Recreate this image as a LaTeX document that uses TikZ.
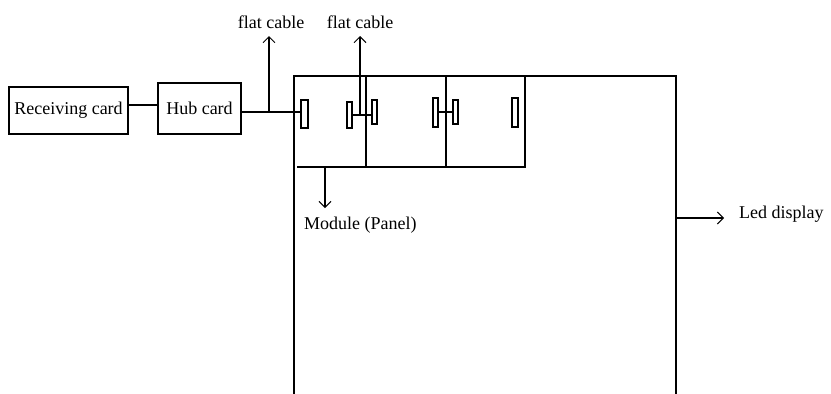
\documentclass[tikz,border=0pt]{standalone}
\usepackage{fontspec}
\setmainfont{Liberation Serif}
\usetikzlibrary{arrows.meta,calc}
\begin{document}
\begin{tikzpicture}[x=1pt,y=-1pt,
  ln/.style={line width=1.2pt},
  card/.style={draw,line width=1.2pt,rectangle,inner sep=0pt},
  conn/.style={draw,line width=1.1pt,rectangle,inner sep=0pt,minimum width=6pt,minimum height=26pt},
  lbl/.style={font=\fontsize{18}{20}\selectfont,inner sep=0pt},
  arr/.style={ln,-{Straight Barb[length=6pt,width=12pt,line width=1pt]}}]
\useasboundingbox (0,0) rectangle (831,394);
% cards
\node[card,minimum width=119pt,minimum height=47pt,lbl] (recv) at (68.5,110.5) {Receiving card};
\node[card,minimum width=83pt,minimum height=51pt,lbl] (hub) at (199.5,108.5) {Hub card};
% led display outline
\coordinate (bl) at (294,394);
\coordinate (tl) at (294,76);
\coordinate (tr) at (676,76);
\coordinate (br) at (676,394);
\draw[ln] (bl) -- (tl) -- (tr) -- (br);
% modules
\coordinate (m1) at (366,76);
\coordinate (m2) at (446,76);
\coordinate (m3) at (525,76);
\coordinate (mb0) at (297,167);
\coordinate (mb3) at (525,167);
\draw[ln] (m1) -- (m1 |- mb0);
\draw[ln] (m2) -- (m2 |- mb0);
\draw[ln] (m3) -- (mb3) -- (mb0);
% connectors
\node[conn,minimum width=7pt,minimum height=28pt] (c1) at (304.5,114) {};
\node[conn,minimum width=5pt,minimum height=26pt] (c2) at (349.5,115) {};
\node[conn,minimum width=5pt,minimum height=24pt] (c3) at (374.5,112) {};
\node[conn,minimum width=5pt,minimum height=29pt] (c4) at (435.5,112.5) {};
\node[conn,minimum width=5pt,minimum height=24pt] (c5) at (455.5,112) {};
\node[conn,minimum width=6pt,minimum height=29pt] (c6) at (515,112.5) {};
% links
\draw[ln] ($(recv.east)+(0,-5.5)$) -- ($(hub.west)+(0,-3.5)$);
\coordinate (j1) at (269,112);
\draw[ln] (hub.east |- j1) -- (c1.west |- j1);
\coordinate (j2) at (360,115);
\draw[ln] (c2.east |- j2) -- (c3.west |- j2);
\draw[ln] (c4.east |- c5) -- (c5.west);
% flat cables
\node[lbl] (fc1) at (271,22) {flat cable};
\node[lbl] (fc2) at (360,22) {flat cable};
\draw[arr] (j1) -- (j1 |- 0,36);
\draw[arr] (j2) -- (j2 |- 0,36);
% module label
\coordinate (ma) at (325,167);
\node[lbl,anchor=west] (mod) at (304,225) {Module (Panel)};
\draw[arr] (ma) -- (325,208);
% led display label
\coordinate (la) at (676,218);
\node[lbl,anchor=west] (led) at (739,214) {Led display};
\draw[arr] (la) -- (724,218);
\end{tikzpicture}
\end{document}
